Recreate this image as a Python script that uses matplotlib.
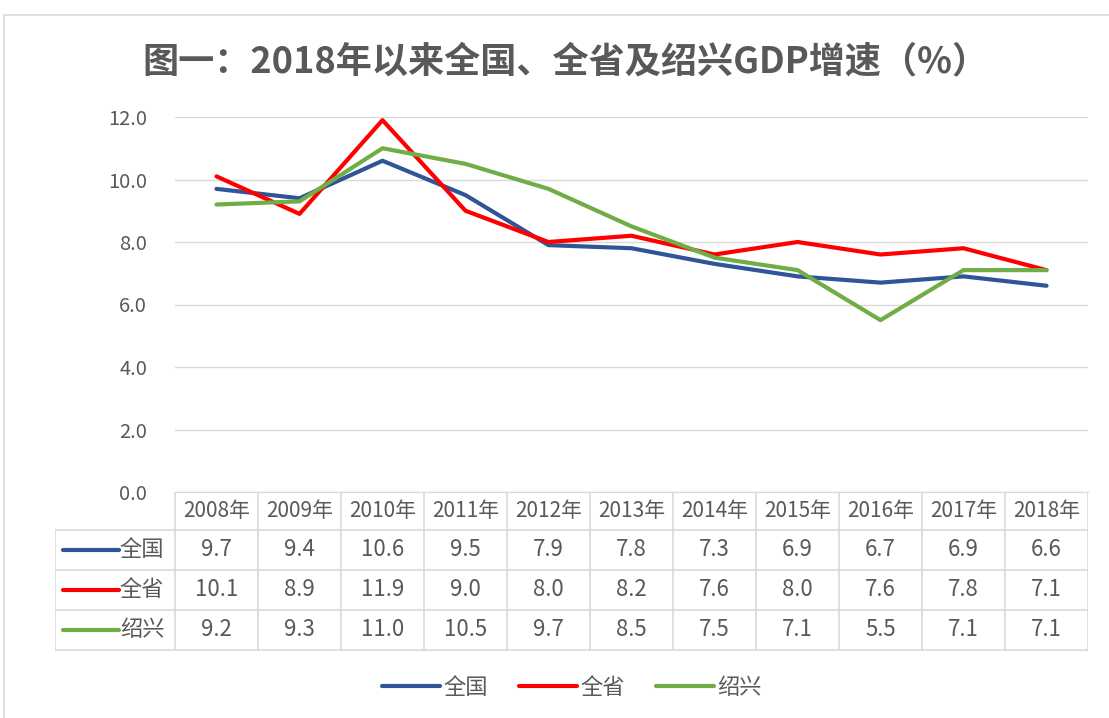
import numpy as np
import matplotlib.pyplot as plt

plt.rcParams['font.family'] = ['Noto Sans CJK SC', 'DejaVu Sans']

years = ['2008年', '2009年', '2010年', '2011年', '2012年', '2013年',
         '2014年', '2015年', '2016年', '2017年', '2018年']
series_names = ['全国', '全省', '绍兴']
quanguo = [9.7, 9.4, 10.6, 9.5, 7.9, 7.8, 7.3, 6.9, 6.7, 6.9, 6.6]
quansheng = [10.1, 8.9, 11.9, 9.0, 8.0, 8.2, 7.6, 8.0, 7.6, 7.8, 7.1]
shaoxing = [9.2, 9.3, 11.0, 10.5, 9.7, 8.5, 7.5, 7.1, 5.5, 7.1, 7.1]
yticks = [0, 2, 4, 6, 8, 10, 12]

colors = ['#2F5597', '#FF0000', '#70AD47']
txt = '#595959'
grid = '#D9D9D9'

W, H = 1109, 718
fig = plt.figure(figsize=(W / 100, H / 100), dpi=100)


def px_axes(x0, y0, x1, y1):
    # pixel box (top-left origin) -> figure axes
    return fig.add_axes([x0 / W, 1 - y1 / H, (x1 - x0) / W, (y1 - y0) / H])


# outer chart border
border = plt.Rectangle((4 / W, -0.01), 1.2, 1 - 15 / H + 0.01, transform=fig.transFigure,
                       fill=False, edgecolor='#D9D9D9', linewidth=1.2)
fig.patches.append(border)

fig.text(565 / W, 1 - 62 / H, '图一：2018年以来全国、全省及绍兴GDP增速（%）',
         ha='center', va='center', fontsize=26, fontweight='bold', color=txt)

# main line plot
ax = px_axes(175, 117, 1088, 492)
x = np.arange(len(years))
data = [quanguo, quansheng, shaoxing]
for vals, c, name in zip(data, colors, series_names):
    ax.plot(x, vals, color=c, linewidth=3, label=name, solid_capstyle='round')
ax.set_xlim(-0.5, len(years) - 0.5)
ax.set_ylim(0, 12)
ax.set_yticks(yticks)
ax.set_yticklabels([f'{v:.1f}' for v in yticks], fontsize=14.5, color=txt)
ax.tick_params(axis='y', length=0, pad=20)
ax.set_xticks([])
ax.grid(axis='y', color=grid, linewidth=1)
ax.set_axisbelow(True)
for s in ['top', 'right', 'left']:
    ax.spines[s].set_visible(False)
ax.spines['bottom'].set_color(grid)

# data table
label_w = 120 / 83.0
tab = px_axes(55, 492, 1088, 651)
tab.set_xlim(-0.5 - label_w, len(years) - 0.5)
row_edges = [0, 38, 78, 118, 158]
tab.set_ylim(159, 0)
tab.axis('off')
lc = dict(color=grid, linewidth=1.2)
for ry in row_edges[1:]:
    tab.plot([-0.5 - label_w, len(years) - 0.5], [ry, ry], **lc)
for i in range(len(years) + 1):
    tab.plot([i - 0.5, i - 0.5], [0, 158], **lc)
tab.plot([-0.5 - label_w, -0.5 - label_w], [38, 158], **lc)
for i, yr in enumerate(years):
    tab.text(i, 19, yr, ha='center', va='center', fontsize=15, color=txt)
for r, (vals, c, name) in enumerate(zip(data, colors, series_names)):
    yc = (row_edges[r + 1] + row_edges[r + 2]) / 2
    tab.plot([-0.5 - label_w + 0.1, -0.5 - label_w + 0.77], [yc, yc], color=c,
             linewidth=3, solid_capstyle='round')
    tab.text(-0.5 - label_w + 0.78, yc, name, ha='left', va='center', fontsize=16, color=txt)
    for i, v in enumerate(vals):
        tab.text(i, yc, f'{v:.1f}', ha='center', va='center', fontsize=16, color=txt)

# legend at bottom
handles, labels = ax.get_legend_handles_labels()
fig.legend(handles, labels, loc='center', bbox_to_anchor=(572 / W, 1 - 687 / H), ncol=3,
           frameon=False, fontsize=16, labelcolor=txt, handlelength=2.6,
           handletextpad=0.15, columnspacing=1.4)

fig.savefig('out.png', dpi=100)
